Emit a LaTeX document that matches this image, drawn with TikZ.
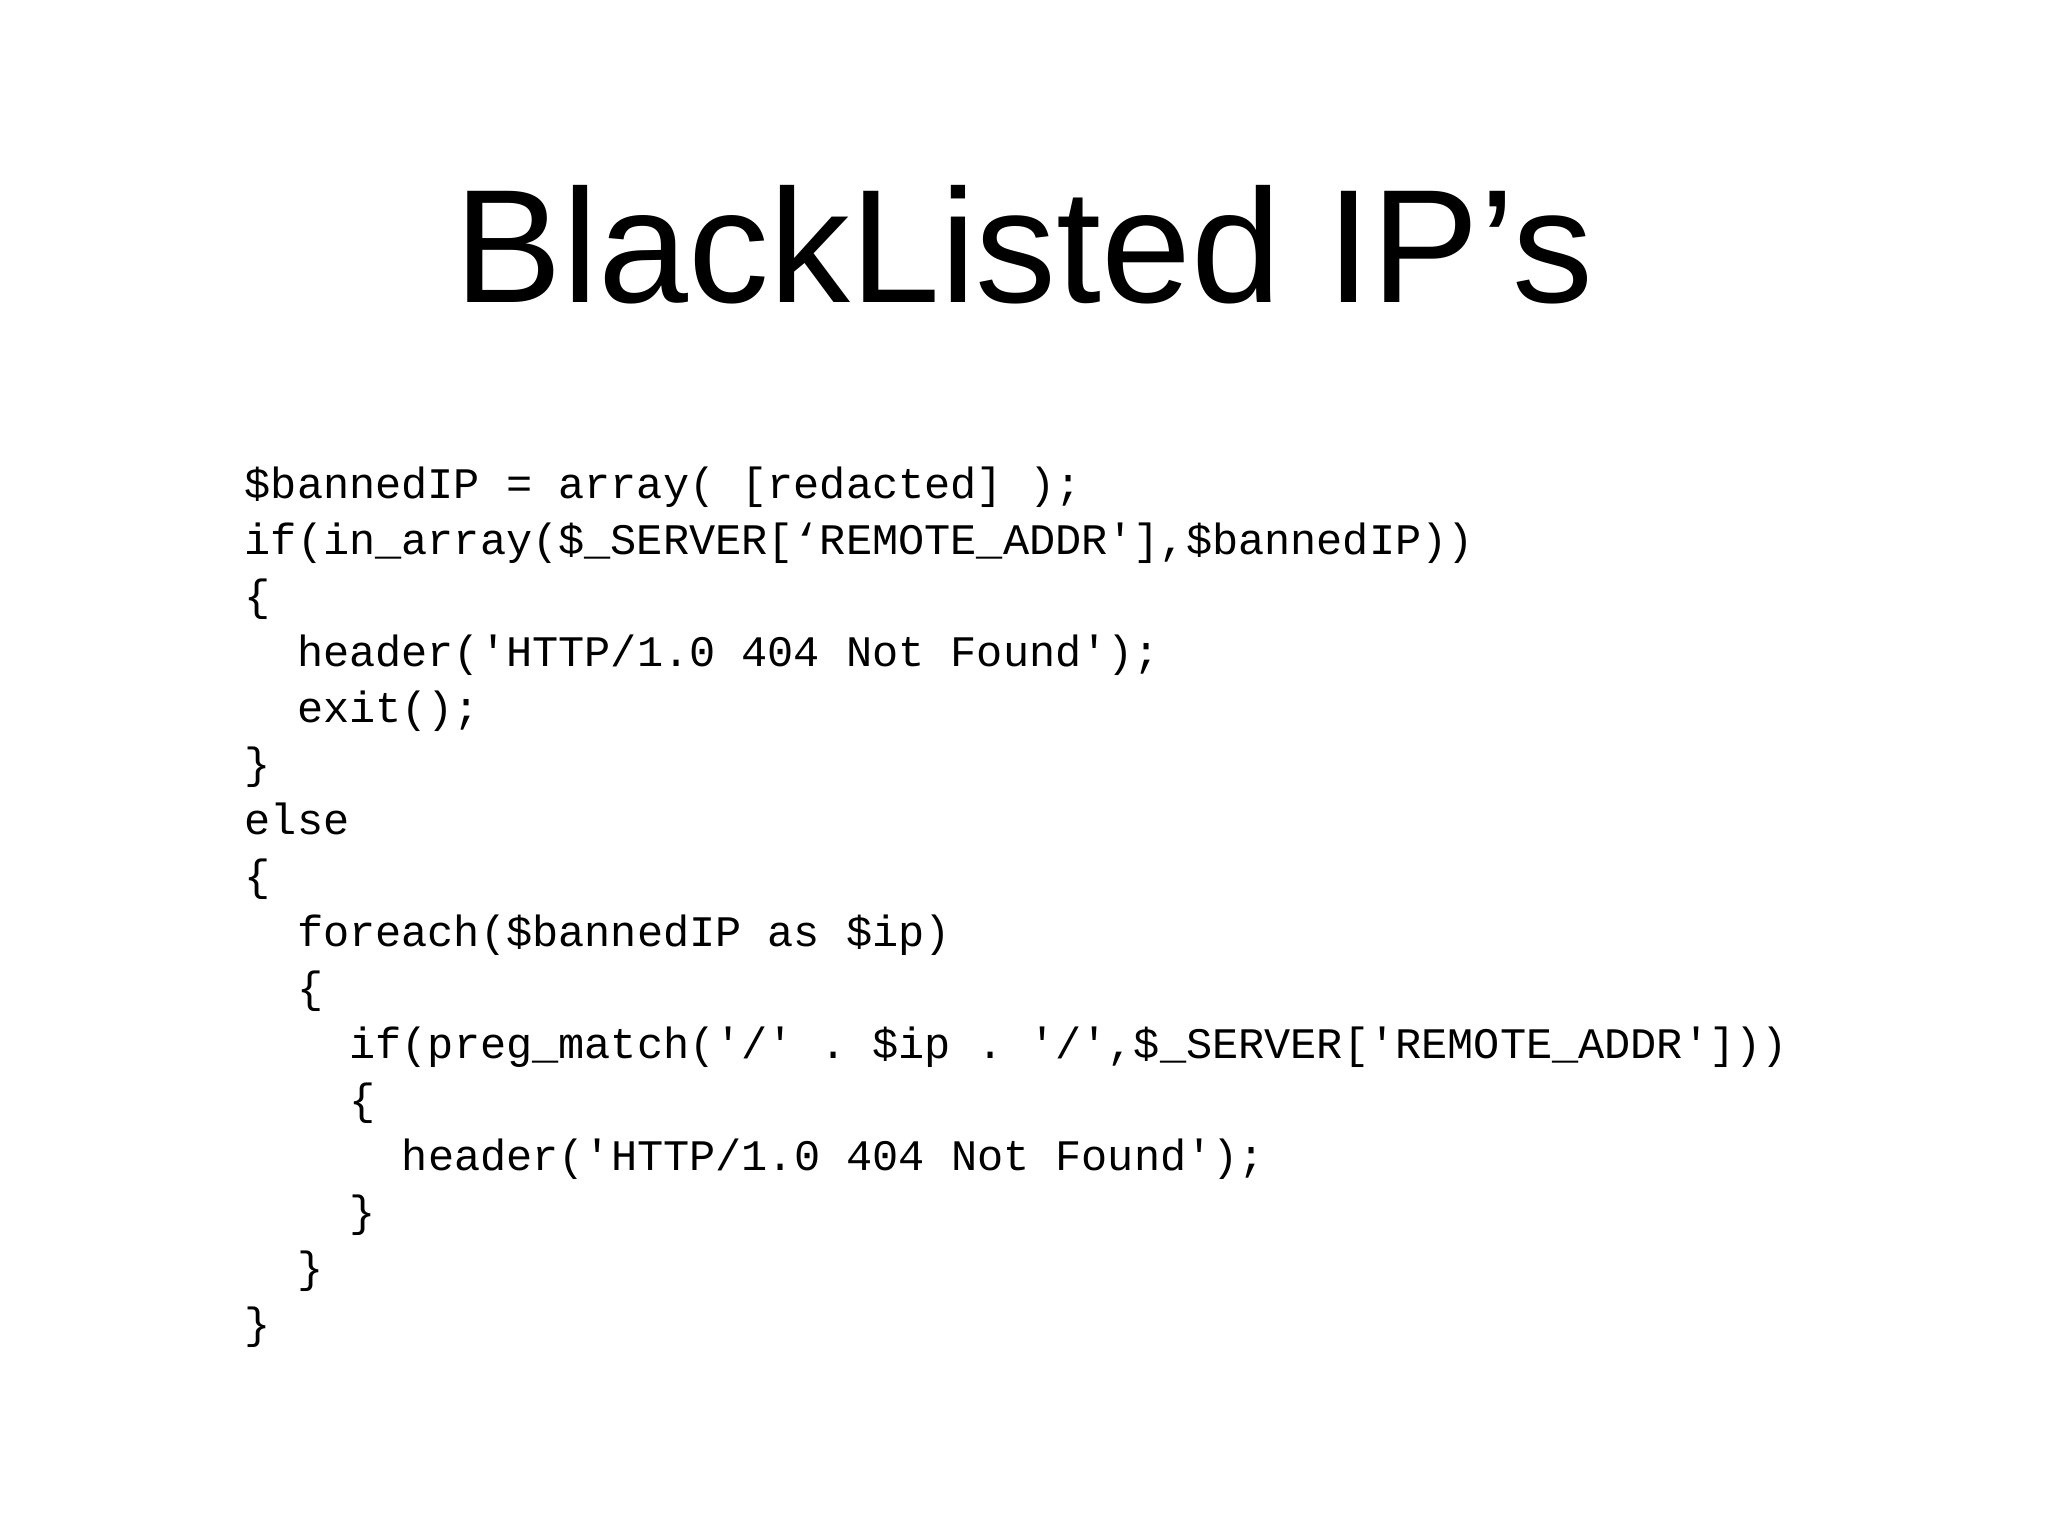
\documentclass[tikz,border=0pt]{standalone}
\usepackage{fontspec}
\setmainfont{Liberation Sans}
\setmonofont{Liberation Mono}
\begin{document}
\begin{tikzpicture}[x=1cm,y=1cm,
  codeline/.style={anchor=base west,inner sep=0pt,font=\ttfamily\fontsize{12.4}{15}\selectfont}]
\useasboundingbox[fill=white] (0,0) rectangle (20.48,15.36);
\node[anchor=base,inner sep=0pt,font=\fontsize{46}{50}\selectfont] (title) at (10.24,12.33) {BlackListed IP’s};
\def\cw{0.524}
\foreach \ind/\txt [count=\i] in {
 0/{\$bannedIP = array( [redacted] );},
 0/{if(in\_array(\$\_SERVER[‘REMOTE\_ADDR'],\$bannedIP))},
 0/{\{},
 1/{header('HTTP/1.0 404 Not Found');},
 1/{exit();},
 0/{\}},
 0/{else},
 0/{\{},
 1/{foreach(\$bannedIP as \$ip)},
 1/{\{},
 2/{if(preg\_match('/' . \$ip . '/',\$\_SERVER['REMOTE\_ADDR']))},
 2/{\{},
 3/{header('HTTP/1.0 404 Not Found');},
 2/{\}},
 1/{\}},
 0/{\}}}
 \node[codeline] (l\i) at ({2.44+\ind*\cw},{10.37-(\i-1)*0.56}) {\txt};
\end{tikzpicture}
\end{document}
